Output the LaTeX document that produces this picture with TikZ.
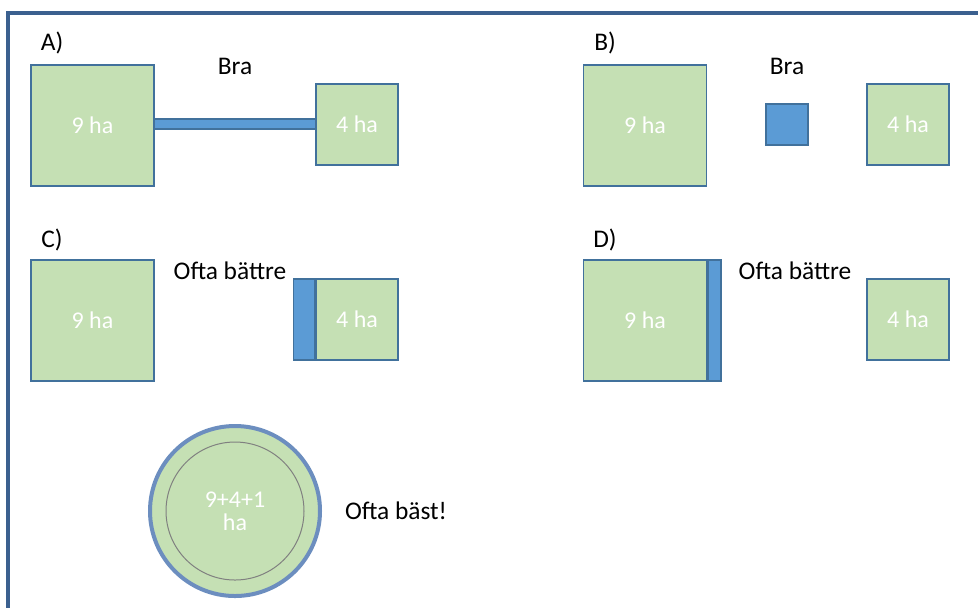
\documentclass[tikz,border=0pt]{standalone}
\usepackage{fontspec}
\setmainfont{Carlito}
\usepackage{xcolor}
\usepackage{tikz}
\usetikzlibrary{calc}
\usetikzlibrary{positioning}
\definecolor{faltgron}{RGB}{197,224,180}
\definecolor{kant}{RGB}{65,113,156}
\definecolor{korridor}{RGB}{91,155,213}
\definecolor{ram}{RGB}{59,96,143}
\definecolor{ring}{RGB}{108,142,191}
\tikzset{
	stor/.style={draw=kant,fill=faltgron,line width=0.7pt,minimum width=61.5pt,minimum height=60.5pt,inner sep=0pt,text=white,font=\fontsize{12}{13}\selectfont},
	liten/.style={stor,minimum width=41pt,minimum height=40.5pt},
	korr/.style={draw=kant,fill=korridor,line width=0.7pt,inner sep=0pt},
	rubrik/.style={font=\fontsize{12.7}{15}\selectfont,text=black,inner sep=0pt}
}

\begin{document}
\begin{tikzpicture}[x=0.5pt,y=-0.5pt]
	\useasboundingbox (0,0) rectangle (978,607);
	\clip (0,0) rectangle (978,607);
	\fill[white] (0,0) rectangle (978,607);
	\draw[ram,line width=2pt] (7.5,13) rectangle (990,620);
	% A
	\node[rubrik] (labA) at (52,43) {A)};
	\node[stor] (A9) at (92.5,125.5) {9 ha};
	\node[liten] (A4) at (357,124.5) {4 ha};
	\node[korr,minimum height=5pt,minimum width=81pt] (Akorr) at ($(A9.east)!0.5!(A4.west)+(0,-1)$) {};
	\node[rubrik] (braA) at (235,66) {Bra};
	% B
	\node[rubrik] (labB) at (605,43) {B)};
	\node[stor] (B9) at (645,125.5) {9 ha};
	\node[korr,minimum width=21pt,minimum height=20.5pt] (Bkorr) at (787,124.5) {};
	\node[liten] (B4) at (908,124.5) {4 ha};
	\node[rubrik] (braB) at (787,66) {Bra};
	% C
	\node[rubrik] (labC) at (52,240) {C)};
	\node[stor] (C9) at (92.5,320.5) {9 ha};
	\node[liten] (C4) at (357,319.5) {4 ha};
	\node[korr,minimum width=10.5pt,minimum height=40.5pt,anchor=east] (Ckorr) at (C4.west) {};
	\node[rubrik] (battreC) at (230,271) {Ofta bättre};
	% D
	\node[rubrik] (labD) at (605,240) {D)};
	\node[stor] (D9) at (645,320.5) {9 ha};
	\node[korr,minimum width=6.5pt,minimum height=60.5pt,anchor=west] (Dkorr) at (D9.east) {};
	\node[liten] (D4) at (908,319.5) {4 ha};
	\node[rubrik] (battreD) at (795,271) {Ofta bättre};
	% samlad yta
	\node[circle,draw=ring,fill=faltgron,line width=2pt,minimum size=85pt,inner sep=0pt] (hel) at (235,511) {};
	\node[circle,draw=gray,line width=0.5pt,minimum size=69pt,inner sep=0pt,align=center,text=white,font=\fontsize{12}{11.5}\selectfont] (karna) at (hel) {9+4+1\\ha};
	\node[rubrik] (bast) at (396,511) {Ofta bäst!};
\end{tikzpicture}
\end{document}
